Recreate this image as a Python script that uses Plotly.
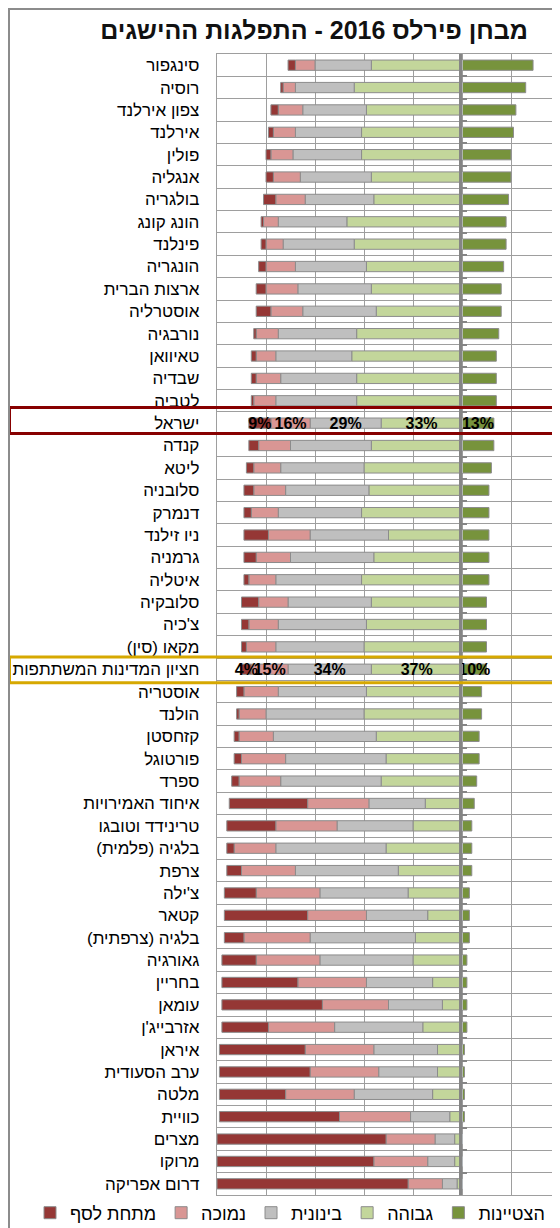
import plotly.graph_objects as go

# ---------------- data ----------------
countries = [
    "סינגפור", "רוסיה", "צפון אירלנד", "אירלנד", "פולין", "אנגליה", "בולגריה",
    "הונג קונג", "פינלנד", "הונגריה", "ארצות הברית", "אוסטרליה", "נורבגיה",
    "טאיוואן", "שבדיה", "לטביה", "ישראל", "קנדה", "ליטא", "סלובניה", "דנמרק",
    "ניו זילנד", "גרמניה", "איטליה", "סלובקיה", "צ'כיה", "מקאו (סין)",
    "חציון המדינות המשתתפות", "אוסטריה", "הולנד", "קזחסטן", "פורטוגל", "ספרד",
    "איחוד האמירויות", "טרינידד וטובגו", "בלגיה (פלמית)", "צרפת", "צ'ילה",
    "קטאר", "בלגיה (צרפתית)", "גאורגיה", "בחריין", "עומאן", "אזרבייג'ן",
    "איראן", "ערב הסעודית", "מלטה", "כוויית", "מצרים", "מרוקו", "דרום אפריקה",
]
advanced = [29, 26, 22, 21, 20, 20, 19, 18, 18, 17, 16, 16, 15, 14, 14, 14, 13,
            13, 12, 11, 11, 11, 11, 11, 10, 10, 10, 10, 8, 8, 7, 7, 6,
            5, 4, 4, 4, 3, 3, 3, 2, 2, 2, 2, 1, 1, 1, 1, 0, 0, 0]
high = [37, 44, 39, 41, 41, 37, 36, 47, 44, 39, 37, 35, 43, 45, 43, 43, 33,
        37, 40, 38, 41, 30, 36, 41, 37, 39, 40, 37, 39, 40, 35, 31, 33,
        15, 20, 31, 26, 22, 14, 19, 20, 12, 8, 16, 10, 10, 12, 5, 3, 3, 2]
intermediate = [23, 24, 26, 27, 28, 29, 28, 28, 29, 29, 30, 30, 32, 31, 31, 33, 29,
                33, 34, 34, 34, 32, 34, 35, 34, 36, 36, 34, 36, 40, 42, 41, 41,
                23, 31, 45, 42, 36, 25, 43, 38, 27, 22, 36, 26, 24, 32, 16, 8, 11, 6]
low = [8, 5, 10, 9, 9, 11, 12, 6, 7, 12, 13, 13, 9, 8, 10, 9, 16,
       13, 11, 13, 11, 17, 14, 11, 12, 12, 12, 15, 14, 11, 14, 18, 17,
       25, 25, 17, 22, 26, 24, 27, 26, 28, 27, 27, 28, 28, 28, 29, 20, 22, 14]
below = [3, 1, 3, 2, 2, 3, 5, 1, 2, 3, 4, 6, 1, 2, 2, 1, 9,
         4, 3, 4, 3, 10, 5, 2, 7, 3, 2, 4, 3, 1, 2, 3, 3,
         32, 20, 3, 6, 13, 34, 8, 14, 31, 41, 19, 35, 37, 27, 49, 69, 64, 78]

series_names = ["הצטיינות", "גבוהה", "בינונית", "נמוכה", "מתחת לסף"]
series_colors = ["#77933C", "#C3D69B", "#BFBFBF", "#D99694", "#953735"]
highlighted = ["ישראל", "חציון המדינות המשתתפות"]
title_text = "מבחן פירלס 2016 - התפלגות ההישגים"

RLM = "\u200f"


def rtl(s):
    return RLM + s + RLM


labels = [rtl(c) for c in countries]
n = len(countries)

FONT = "Arial, 'Liberation Sans', sans-serif"
GRID = "#9E9E9E"
AXIS = "#858585"

fig = go.Figure()
for name, vals, color, sign in zip(series_names,
                                   [advanced, high, intermediate, low, below],
                                   series_colors, [1, -1, -1, -1, -1]):
    fig.add_trace(go.Bar(
        y=labels, x=[sign * v for v in vals], orientation="h",
        name=rtl(name),
        marker=dict(color=color, line=dict(color="#8C8C8C", width=1)),
        text=[f"{v}%" if c in highlighted else "" for c, v in zip(countries, vals)],
        textposition="inside", insidetextanchor="middle", textangle=0,
        constraintext="none",
        textfont=dict(family=FONT, size=16, color="black", weight="bold"),
        hoverinfo="skip",
    ))

# The page body has an 8px margin: screen pixel = figure pixel + 8.
OFF = 8
W, H = 560 - OFF, 1228 - OFF
L, R = 217 - OFF, 0
T, B = 54 - OFF, 1228 - 1195
pw = W - L - R
ph = H - T - B


def px_x(screen_x):
    return (screen_x - OFF - L) / pw


def px_y(screen_y):
    return (H - B - (screen_y - OFF)) / ph


# second (tick-only) category axis crossing the value axis at 0
fig.add_trace(go.Bar(
    y=labels, x=[0 for _ in countries], orientation="h",
    xaxis="x2", yaxis="y2", showlegend=False, hoverinfo="skip",
    marker=dict(color="rgba(0,0,0,0)"),
))

israel_i = countries.index("ישראל")
median_i = countries.index("חציון המדינות המשתתפות")

shapes = [
    dict(type="rect", xref="paper", yref="y", x0=px_x(9.5), x1=px_x(557),
         y0=israel_i - 0.7, y1=israel_i + 0.46,
         line=dict(color="#870000", width=3), layer="above"),
    dict(type="rect", xref="paper", yref="y", x0=px_x(9.5), x1=px_x(557),
         y0=median_i - 0.55, y1=median_i + 0.6,
         line=dict(color="#D6A800", width=3), layer="above"),
    dict(type="rect", xref="paper", yref="paper", x0=px_x(9), x1=px_x(558),
         y0=px_y(1240), y1=px_y(9),
         line=dict(color="#8C8C8C", width=2), layer="above"),
]

zero_frac = 100 / 140
fig.update_layout(
    width=W, height=H,
    barmode="relative", bargap=0.54,
    margin=dict(l=L, r=R, t=T, b=B, pad=0, autoexpand=False),
    paper_bgcolor="white", plot_bgcolor="rgba(0,0,0,0)",
    font=dict(family=FONT, size=17, color="black"),
    title=dict(text=RLM + "<b>" + title_text + "</b>" + RLM,
               font=dict(family=FONT, size=25, color="#111111"),
               xref="container", x=(528 - OFF) / W, xanchor="right",
               yref="container", y=1 - (30 - OFF) / H, yanchor="middle"),
    xaxis=dict(range=[-100, 40], tickmode="linear", tick0=0, dtick=20,
               showticklabels=False, showgrid=True, gridcolor=GRID, gridwidth=1.4,
               zeroline=False, showline=True, mirror=True, linecolor=GRID,
               linewidth=1.4, fixedrange=True),
    yaxis=dict(type="category", categoryorder="array", categoryarray=labels,
               range=[n - 0.5, -0.5], tickson="boundaries", showgrid=True,
               gridcolor=GRID, gridwidth=1.4, ticks="", ticklabelstandoff=13,
               showline=True, mirror=True, linecolor=GRID, linewidth=1.4,
               tickfont=dict(family=FONT, size=17, color="black"),
               fixedrange=True),
    # x2 occupies the right part of the plot (from 0 to +40) so that y2,
    # anchored on it, sits exactly at value 0
    xaxis2=dict(domain=[zero_frac, 1], range=[0, 40], visible=False,
                fixedrange=True),
    yaxis2=dict(type="category", categoryorder="array", categoryarray=labels,
                range=[n - 0.5, -0.5], anchor="x2", side="left",
                tickson="boundaries", showgrid=False, showline=True,
                linecolor=AXIS, linewidth=3, layer="above traces",
                ticks="inside", ticklen=5, tickwidth=2, tickcolor=AXIS,
                showticklabels=False, fixedrange=True),
    legend=dict(orientation="h", traceorder="reversed",
                x=px_x(30), xanchor="left", y=px_y(1213), yanchor="middle",
                font=dict(family=FONT, size=18, color="black"),
                bgcolor="rgba(0,0,0,0)"),
    shapes=shapes,
    showlegend=True,
)

fig.write_html("out.html")
